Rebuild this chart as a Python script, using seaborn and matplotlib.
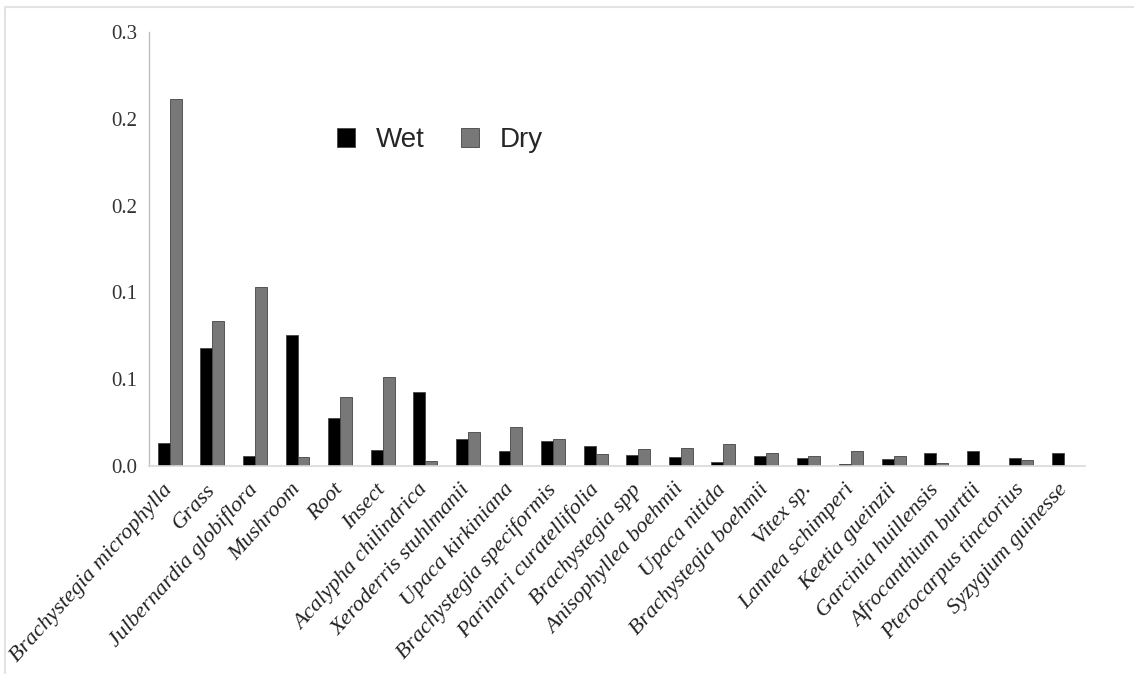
import numpy as np
import pandas as pd
import seaborn as sns
import matplotlib.pyplot as plt
from matplotlib.lines import Line2D

species = ["Brachystegia microphylla", "Grass", "Julbernardia globiflora", "Mushroom",
           "Root", "Insect", "Acalypha chilindrica", "Xeroderris stuhlmanii",
           "Upaca kirkiniana", "Brachystegia speciformis", "Parinari curatellifolia",
           "Brachystegia spp", "Anisophyllea boehmii", "Upaca nitida",
           "Brachystegia boehmii", "Vitex sp.", "Lannea schimperi", "Keetia gueinzii",
           "Garcinia huillensis", "Afrocanthium burttii", "Pterocarpus tinctorius",
           "Syzygium guinesse"]
wet = [0.0131, 0.0678, 0.0058, 0.0756, 0.0278, 0.0092, 0.0426, 0.0157,
       0.0086, 0.0142, 0.0115, 0.0062, 0.0050, 0.0019, 0.0054, 0.0046,
       0.0008, 0.0038, 0.0075, 0.0086, 0.0042, 0.0075]
dry = [0.2118, 0.0835, 0.1029, 0.0048, 0.0396, 0.0513, 0.0029, 0.0192,
       0.0225, 0.0152, 0.0065, 0.0098, 0.0102, 0.0125, 0.0073, 0.0056,
       0.0086, 0.0056, 0.0017, 0.0, 0.0033, 0.0]
yticks = [0.0, 0.05, 0.10, 0.15, 0.20, 0.25]
ytick_labels = ["0.0", "0.1", "0.1", "0.2", "0.2", "0.3"]

df = pd.DataFrame({"species": species * 2,
                   "season": ["Wet"] * len(species) + ["Dry"] * len(species),
                   "value": wet + dry})

sns.set_style("white")
fig = plt.figure(figsize=(11.34, 6.74), dpi=100)
ax = fig.add_axes([0.131, 0.309, 0.826, 0.643])

sns.barplot(data=df, x="species", y="value", hue="season", order=species,
            hue_order=["Wet", "Dry"], palette={"Wet": "#000000", "Dry": "#787878"},
            width=0.56, saturation=1, linewidth=0.6, edgecolor="#444444", ax=ax)

ax.set_ylim(0, 0.25)
ax.set_xlim(-0.5, len(species) - 0.5)
ax.set_yticks(yticks)
ax.set_yticklabels(ytick_labels, fontfamily="Liberation Serif", fontsize=15, color="#333333")
ax.set_xticks(range(len(species)))
ax.set_xticklabels(species, rotation=48, ha="right", va="center", rotation_mode="anchor",
                   fontfamily="Liberation Serif", fontstyle="italic", fontsize=16.2, color="#222222")
ax.tick_params(axis="both", length=0, pad=8)
ax.tick_params(axis="x", pad=15)
ax.set_xlabel("")
ax.set_ylabel("")
for s in ["top", "right"]:
    ax.spines[s].set_visible(False)
ax.spines["left"].set_color("#bfbfbf")
ax.spines["bottom"].set_color("#d9d9d9")
ax.spines["left"].set_linewidth(1)
ax.spines["bottom"].set_linewidth(1.2)

leg = ax.legend(loc="center left", bbox_to_anchor=(337 / 1134, 1 - 140 / 674),
                bbox_transform=fig.transFigure, ncol=2, frameon=False,
                borderpad=0, borderaxespad=0,
                prop={"family": "Liberation Sans", "size": 20},
                handlelength=0.65, handleheight=0.65, handletextpad=0.75, columnspacing=1.3)

# thin gray frame around the picture (top and left edges)
fig.add_artist(Line2D([5 / 1134, 1], [1 - 7 / 674, 1 - 7 / 674], color="#e3e3e3", lw=1.5))
fig.add_artist(Line2D([5 / 1134, 5 / 1134], [0, 1 - 7 / 674], color="#e3e3e3", lw=1.5))

fig.savefig("out.png", dpi=100)
